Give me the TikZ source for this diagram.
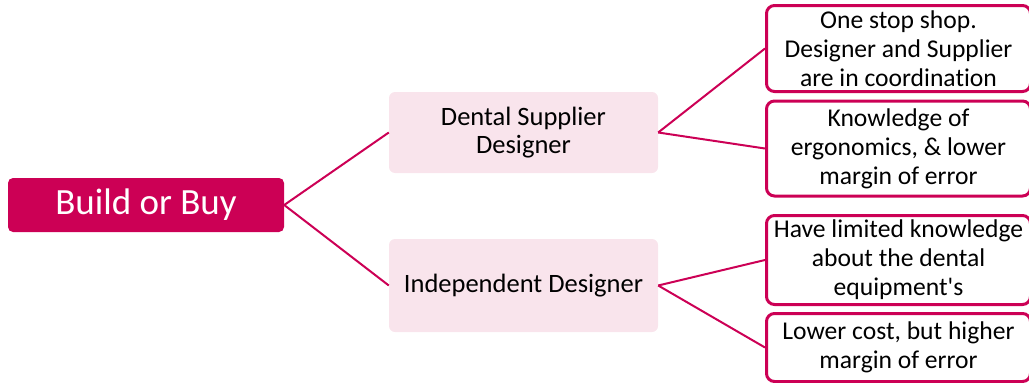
\documentclass[tikz,border=0pt]{standalone}
\usepackage{fontspec}
\newfontfamily\carl{Carlito}[Ligatures=NoCommon]
\definecolor{crim}{RGB}{204,0,85}
\definecolor{lpink}{RGB}{249,228,236}
\tikzset{
  rootbox/.style={fill=crim, text=white, rounded corners=5pt, inner sep=0pt, align=center, font=\carl\fontsize{37}{42}\selectfont},
  midbox/.style={fill=lpink, rounded corners=6pt, inner sep=0pt, align=center, minimum width=269pt, font=\carl\fontsize{26.5}{28.5}\selectfont},
  leafbox/.style={draw=crim, line width=3pt, fill=white, rounded corners=8pt, inner sep=0pt, align=center, minimum width=264pt, font=\carl\fontsize{25.6}{29}\selectfont},
  link/.style={draw=crim, line width=2pt}
}
\begin{document}
\begin{tikzpicture}[x=1pt,y=-1pt]
\useasboundingbox (0,0) rectangle (1029,383);
\clip (0,0) rectangle (1029,383);
\node[rootbox, minimum width=276pt, minimum height=54pt] (root) at (146,205) {Build or Buy};
\node[midbox, minimum height=81pt] (dental) at (523.5,132.5) {Dental Supplier\\Designer};
\node[midbox, minimum height=93pt] (indep) at (523.5,285.5) {Independent Designer};
\node[leafbox, minimum height=86pt] (a) at (898.5,48.5) {One stop shop.\\Designer and Supplier\\are in coordination};
\node[leafbox, minimum height=95pt] (b) at (898.5,148.5) {Knowledge of\\ergonomics, \& lower\\margin of error};
\node[leafbox, minimum height=89pt] (c) at (898.5,260) {\makebox[240pt][c]{Have limited knowledge}\\about the dental\\equipment's};
\node[leafbox, minimum height=68pt] (d) at (898.5,347.5) {Lower cost, but higher\\margin of error};
\draw[link] (root.east) -- (dental.west);
\draw[link] (root.east) -- (indep.west);
\draw[link] (dental.east) -- (a.west);
\draw[link] (dental.east) -- (b.west);
\draw[link] (indep.east) -- (c.west);
\draw[link] (indep.east) -- (d.west);
\end{tikzpicture}
\end{document}
